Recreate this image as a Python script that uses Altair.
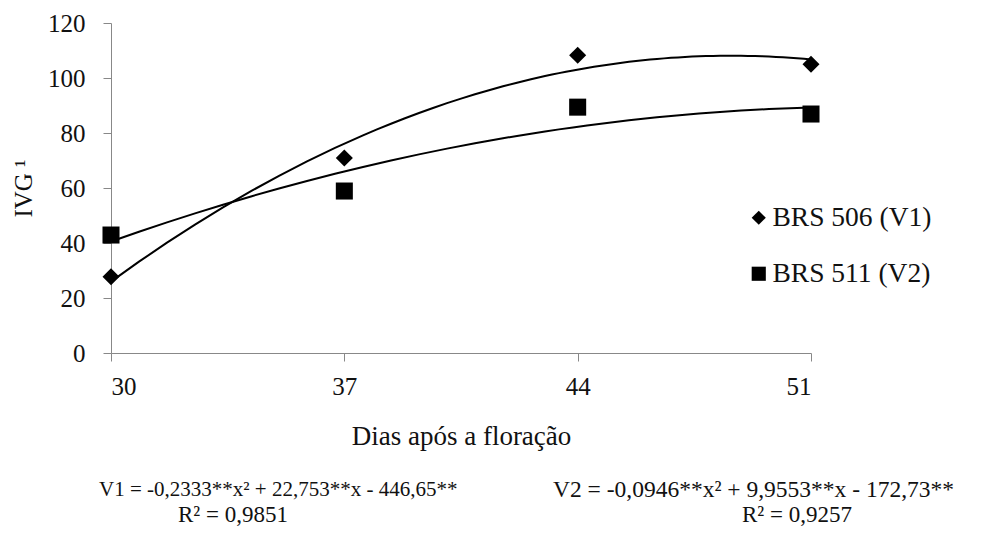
import altair as alt
import pandas as pd

# Days after flowering and germination speed index (IVG) per cultivar
days = [30, 37, 44, 51]
brs506 = [27.7, 70.9, 108.3, 105.0]
brs511 = [42.9, 58.9, 89.4, 86.9]
series_names = ["BRS 506 (V1)", "BRS 511 (V2)"]
series_shapes = ["diamond", "square"]
y_ticks = [0, 20, 40, 60, 80, 100, 120]

eq_v1 = "V1 = -0,2333**x² + 22,753**x - 446,65**"
r2_v1 = "R² = 0,9851"
eq_v2 = "V2 = -0,0946**x² + 9,9553**x - 172,73**"
r2_v2 = "R² = 0,9257"

FONT = "'Liberation Serif', 'Times New Roman', serif"

df = pd.DataFrame({
    "dias": days * 2,
    "ivg": brs506 + brs511,
    "serie": [series_names[0]] * len(days) + [series_names[1]] * len(days),
})

x_enc = alt.X("dias:Q",
              scale=alt.Scale(domain=[30, 51], nice=False, zero=False),
              axis=alt.Axis(values=days, title="Dias após a floração",
                            grid=False, tickSize=8, labelPadding=13,
                            titlePadding=24, labelFontSize=25,
                            titleFontSize=27))
y_enc = alt.Y("ivg:Q",
              scale=alt.Scale(domain=[0, 120], nice=False),
              axis=alt.Axis(values=y_ticks, title="IVG ¹",
                            grid=False, tickSize=8, labelPadding=18,
                            titlePadding=11, labelFontSize=25,
                            titleFontSize=25))

base = alt.Chart(df)

points = base.mark_point(filled=True, opacity=1, color="black", size=290).encode(
    x=x_enc,
    y=y_enc,
    shape=alt.Shape("serie:N",
                    scale=alt.Scale(domain=series_names, range=series_shapes),
                    legend=alt.Legend(title=None, orient="none",
                                      legendX=634, legendY=181,
                                      labelFont=FONT, labelFontSize=27.5,
                                      labelColor="#111", labelLimit=400,
                                      symbolSize=200,
                                      symbolFillColor="black",
                                      symbolStrokeColor="black",
                                      rowPadding=27, padding=0,
                                      labelOffset=0)),
)

# Second-order polynomial fit per cultivar
curves = base.transform_regression(
    "dias", "ivg", groupby=["serie"], method="poly", order=2, extent=[30, 51]
).mark_line(color="black", strokeWidth=2).encode(
    x="dias:Q", y="ivg:Q", detail="serie:N"
)


def note(text, x, y, size):
    return alt.Chart(pd.DataFrame({"t": [text]})).mark_text(
        font=FONT, fontSize=size, align="left", baseline="middle", color="#111"
    ).encode(text="t:N", x=alt.value(x), y=alt.value(y))


notes = [
    note(eq_v1, -12, 467, 21),
    note(r2_v1, 67, 492, 23),
    note(eq_v2, 442, 467, 23.5),
    note(r2_v2, 631, 492, 23),
]

chart = alt.layer(curves, points, *notes).properties(
    width=700, height=330,
    padding={"left": 111, "top": 23, "right": 176, "bottom": 192},
    autosize="none",
    background="white",
).configure(font=FONT).configure_view(stroke=None).configure_axis(
    labelFont=FONT, labelColor="#111",
    titleFont=FONT, titleColor="#111", titleFontWeight="normal",
    domainColor="#888", tickColor="#888", domainWidth=1,
).configure_legend(labelFont=FONT)

chart.save("out.html", embed_options={"renderer": "svg", "actions": False})
